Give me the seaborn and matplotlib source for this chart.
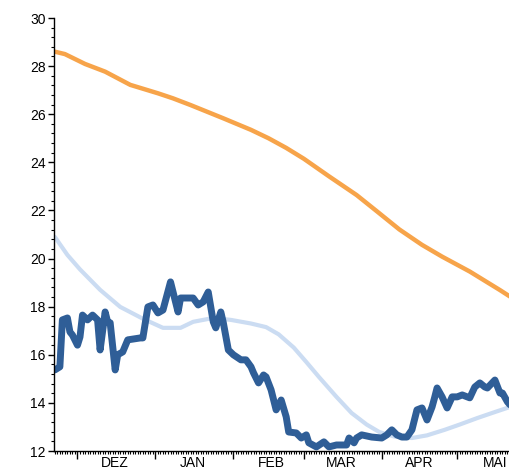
import matplotlib
matplotlib.use("Agg")
import matplotlib.pyplot as plt
import matplotlib.dates as mdates
from matplotlib.ticker import MultipleLocator
import numpy as np
import pandas as pd
import seaborn as sns

sns.set_style("ticks")
plt.rcParams['font.family'] = ['Liberation Sans', 'DejaVu Sans']

start_date = "2018-11-22"

# orange series (day offset from start, value)
orange_days = [0, 4, 12, 20, 30, 41, 47, 54, 67, 78, 85, 92, 99, 109, 120, 128, 137, 146, 154, 165, 177, 181]
orange_vals = [28.6, 28.5, 28.09, 27.77, 27.22, 26.87, 26.66, 26.38, 25.83, 25.35, 25.0, 24.6, 24.15, 23.42, 22.64, 21.97, 21.21, 20.57, 20.08, 19.46, 18.69, 18.42]

# light blue series
light_days = [0, 5, 10, 18, 26, 35, 43, 50, 55, 63, 70, 78, 84, 89, 95, 100, 105, 112, 118, 124, 129, 135, 142, 148, 155, 161, 168, 175, 181]
light_vals = [20.9, 20.15, 19.55, 18.7, 17.99, 17.5, 17.12, 17.12, 17.37, 17.53, 17.45, 17.3, 17.15, 16.85, 16.3, 15.7, 15.08, 14.25, 13.58, 13.1, 12.79, 12.6, 12.54, 12.65, 12.88, 13.1, 13.37, 13.62, 13.83]

# dark blue series
dark_days = [0, 2, 3, 5, 6, 7, 9, 10, 11, 13, 15, 17, 18, 20, 21, 22, 24, 25, 27, 29,
             34, 35, 37, 39, 41, 43, 46, 49, 50, 55, 57, 59, 61, 63, 64, 66, 67, 69, 71, 74,
             76, 78, 79, 81, 83, 84, 86, 88, 90, 92, 93, 96, 98, 100, 101, 104, 107, 109, 112, 116,
             117, 119, 120, 122, 126, 130, 132, 134, 136, 138, 140, 142, 144, 146, 148, 150, 151, 152, 154, 156,
             158, 160, 162, 165, 167, 169, 171, 172, 175, 177, 178, 180, 181]
dark_vals = [15.37, 15.5, 17.45, 17.53, 16.95, 16.82, 16.4, 16.74, 17.65, 17.45, 17.65, 17.45, 16.2, 17.78, 17.37, 17.33, 15.37, 16.0, 16.12, 16.62,
             16.7, 16.7, 17.99, 18.07, 17.74, 17.86, 19.03, 17.78, 18.36, 18.36, 18.07, 18.2, 18.61, 17.37, 17.12, 17.78, 17.33, 16.2, 16.0, 15.79,
             15.79, 15.5, 15.25, 14.83, 15.16, 15.08, 14.54, 13.71, 14.12, 13.42, 12.79, 12.75, 12.54, 12.67, 12.34, 12.17, 12.38, 12.17, 12.25, 12.25,
             12.54, 12.34, 12.54, 12.67, 12.58, 12.54, 12.67, 12.88, 12.67, 12.58, 12.58, 12.88, 13.71, 13.79, 13.29, 13.83, 14.21, 14.62, 14.25, 13.79,
             14.25, 14.25, 14.33, 14.21, 14.66, 14.83, 14.66, 14.62, 14.95, 14.41, 14.41, 14.04, 13.92]

month_labels = ["DEZ", "JAN", "FEB", "MAR", "APR", "MAI"]

base = pd.Timestamp(start_date)
def to_df(days, vals):
    return pd.DataFrame({"date": base + pd.to_timedelta(days, unit="D"), "v": vals})

fig = plt.figure(figsize=(5.1, 4.73), dpi=100)
ax = fig.add_axes([54/510, 1-451/473, 1-54/510, (451-18)/473])

sns.lineplot(data=to_df(orange_days, orange_vals), x="date", y="v", ax=ax, color="#f7a44a", lw=3.2,
             solid_joinstyle="round")
sns.lineplot(data=to_df(light_days, light_vals), x="date", y="v", ax=ax, color="#cbdcf2", lw=3.0,
             solid_joinstyle="round")
sns.lineplot(data=to_df(dark_days, dark_vals), x="date", y="v", ax=ax, color="#2f5e97", lw=5.0,
             solid_joinstyle="round", solid_capstyle="round")

ax.set_ylim(12, 30)
ax.yaxis.set_major_locator(MultipleLocator(2))
ax.yaxis.set_minor_locator(MultipleLocator(0.4))
ax.set_xlim(base - pd.Timedelta(hours=8), base + pd.Timedelta(days=181))
ax.xaxis.set_major_locator(mdates.MonthLocator())
ax.xaxis.set_minor_locator(mdates.DayLocator())
ax.xaxis.set_major_formatter(plt.NullFormatter())
ax.set_xlabel("")
ax.set_ylabel("")
for s in ["top", "right"]:
    ax.spines[s].set_visible(False)
for s in ["left", "bottom"]:
    ax.spines[s].set_color("black")
    ax.spines[s].set_linewidth(1.0)
ax.tick_params(axis="y", which="major", length=4, width=1, color="black", labelsize=10, pad=2, labelcolor="black")
ax.tick_params(axis="y", which="minor", length=2.5, width=0.8, color="black")
ax.tick_params(axis="x", which="major", length=6, width=1, color="black")
ax.tick_params(axis="x", which="minor", length=2.5, width=0.8, color="black")

for i, lab in enumerate(month_labels):
    m = pd.Timestamp(2018, 12, 16) + pd.DateOffset(months=i)
    ax.text(mdates.date2num(m), -0.012, lab, transform=ax.get_xaxis_transform(),
            ha="center", va="top", fontsize=10, color="black")

fig.savefig("out.png", dpi=100)
